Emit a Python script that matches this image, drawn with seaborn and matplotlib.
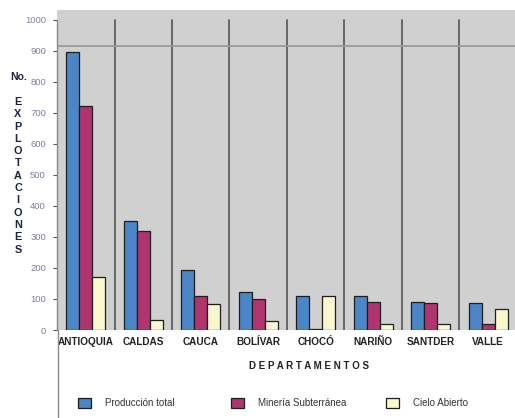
import matplotlib
matplotlib.use("Agg")
import matplotlib.pyplot as plt
from matplotlib.lines import Line2D
from matplotlib.patches import Patch
import seaborn as sns
import pandas as pd

# Number of mining operations per department
departamentos = ["ANTIOQUIA", "CALDAS", "CAUCA", "BOLÍVAR", "CHOCÓ", "NARIÑO", "SANTDER", "VALLE"]
produccion_total = [895, 352, 194, 124, 111, 111, 90, 86]
mineria_subterranea = [723, 320, 111, 99, 4, 89, 86, 19]
cielo_abierto = [170, 32, 83, 28, 111, 19, 19, 67]
series = ["Producción total", "Minería Subterránea", "Cielo Abierto"]
colores = ["#4a86c8", "#b0356f", "#faf6cf"]
y_ticks = list(range(0, 1001, 100))

df = pd.DataFrame({
    "Departamento": departamentos * 3,
    "Serie": [series[0]] * 8 + [series[1]] * 8 + [series[2]] * 8,
    "Valor": produccion_total + mineria_subterranea + cielo_abierto,
})

sns.set_theme(style="white")
plt.rcParams["font.family"] = ["Liberation Sans", "DejaVu Sans"]

W, H = 515, 418
fig = plt.figure(figsize=(W / 100, H / 100), dpi=100)
ax = fig.add_axes([57 / W, (H - 330) / H, (W - 57) / W, 320 / H])
ax.set_facecolor("#d0d0d0")

sns.barplot(data=df, x="Departamento", y="Valor", hue="Serie",
            palette=colores, width=0.683, gap=0, edgecolor="#1e1e1e",
            linewidth=0.9, saturation=1, ax=ax, legend=False, zorder=3)

ax.set_xlim(-0.5, -0.5 + (W - 57) / 57.5)
ax.set_ylim(0, 1032)

# Category separators and top reference line
for i in range(len(departamentos) - 1):
    ax.plot([i + 0.5, i + 0.5], [0, 1000], color="#5e5e5e", lw=1.3, zorder=2)
ax.axhline(916, color="#9a9a9a", lw=1.3, zorder=2)

for s in ["top", "right", "bottom"]:
    ax.spines[s].set_visible(False)
ax.spines["left"].set_color("#8a8a8a")
ax.spines["left"].set_linewidth(1.0)
ax.spines["left"].set_bounds(0, 1000)

ax.set_yticks(y_ticks)
ax.set_yticklabels([str(v) for v in y_ticks], fontsize=6.8, color="#7a80a0",
                   fontstretch="condensed")
ax.tick_params(axis="y", length=3, width=0.8, color="#555555", pad=5, left=True)
ax.tick_params(axis="x", length=0, pad=5)
for lab in ax.get_xticklabels():
    lab.set_fontsize(7.2)
    lab.set_fontweight("bold")
    lab.set_color("#222222")
ax.set_xlabel("")
ax.set_ylabel("")

# Axis line continuing below the plot area
fig.add_artist(Line2D([57.5 / W, 57.5 / W], [0, (H - 330) / H],
                      transform=fig.transFigure, color="#8a8a8a", lw=1.0))

# Vertical y-axis title
fig.text(19 / W, 1 - 77 / H, "No.", fontsize=7.5, fontweight="bold",
         color="#1c2340", ha="center", va="center")
for k, ch in enumerate("EXPLOTACIONES"):
    fig.text(18 / W, 1 - (102 + 12.3 * k) / H, ch, fontsize=7.8, fontweight="bold",
             color="#1c2340", ha="center", va="center")

fig.text(309 / W, 1 - 366 / H, "D E P A R T A M E N T O S", fontsize=7,
         fontweight="bold", color="#222222", ha="center", va="center")

# Legend entries
legend_x = [78, 231, 386]
for x0, lab, col in zip(legend_x, series, colores):
    fig.legend(handles=[Patch(facecolor=col, edgecolor="#1e1e1e", linewidth=0.9)],
               labels=[lab], loc="center left",
               bbox_to_anchor=(x0 / W, 1 - 403 / H), frameon=False,
               fontsize=7, handlelength=1.3, handleheight=1.3,
               handletextpad=1.5, borderpad=0, borderaxespad=0,
               labelcolor="#333333")

fig.savefig("out.png", dpi=100)
